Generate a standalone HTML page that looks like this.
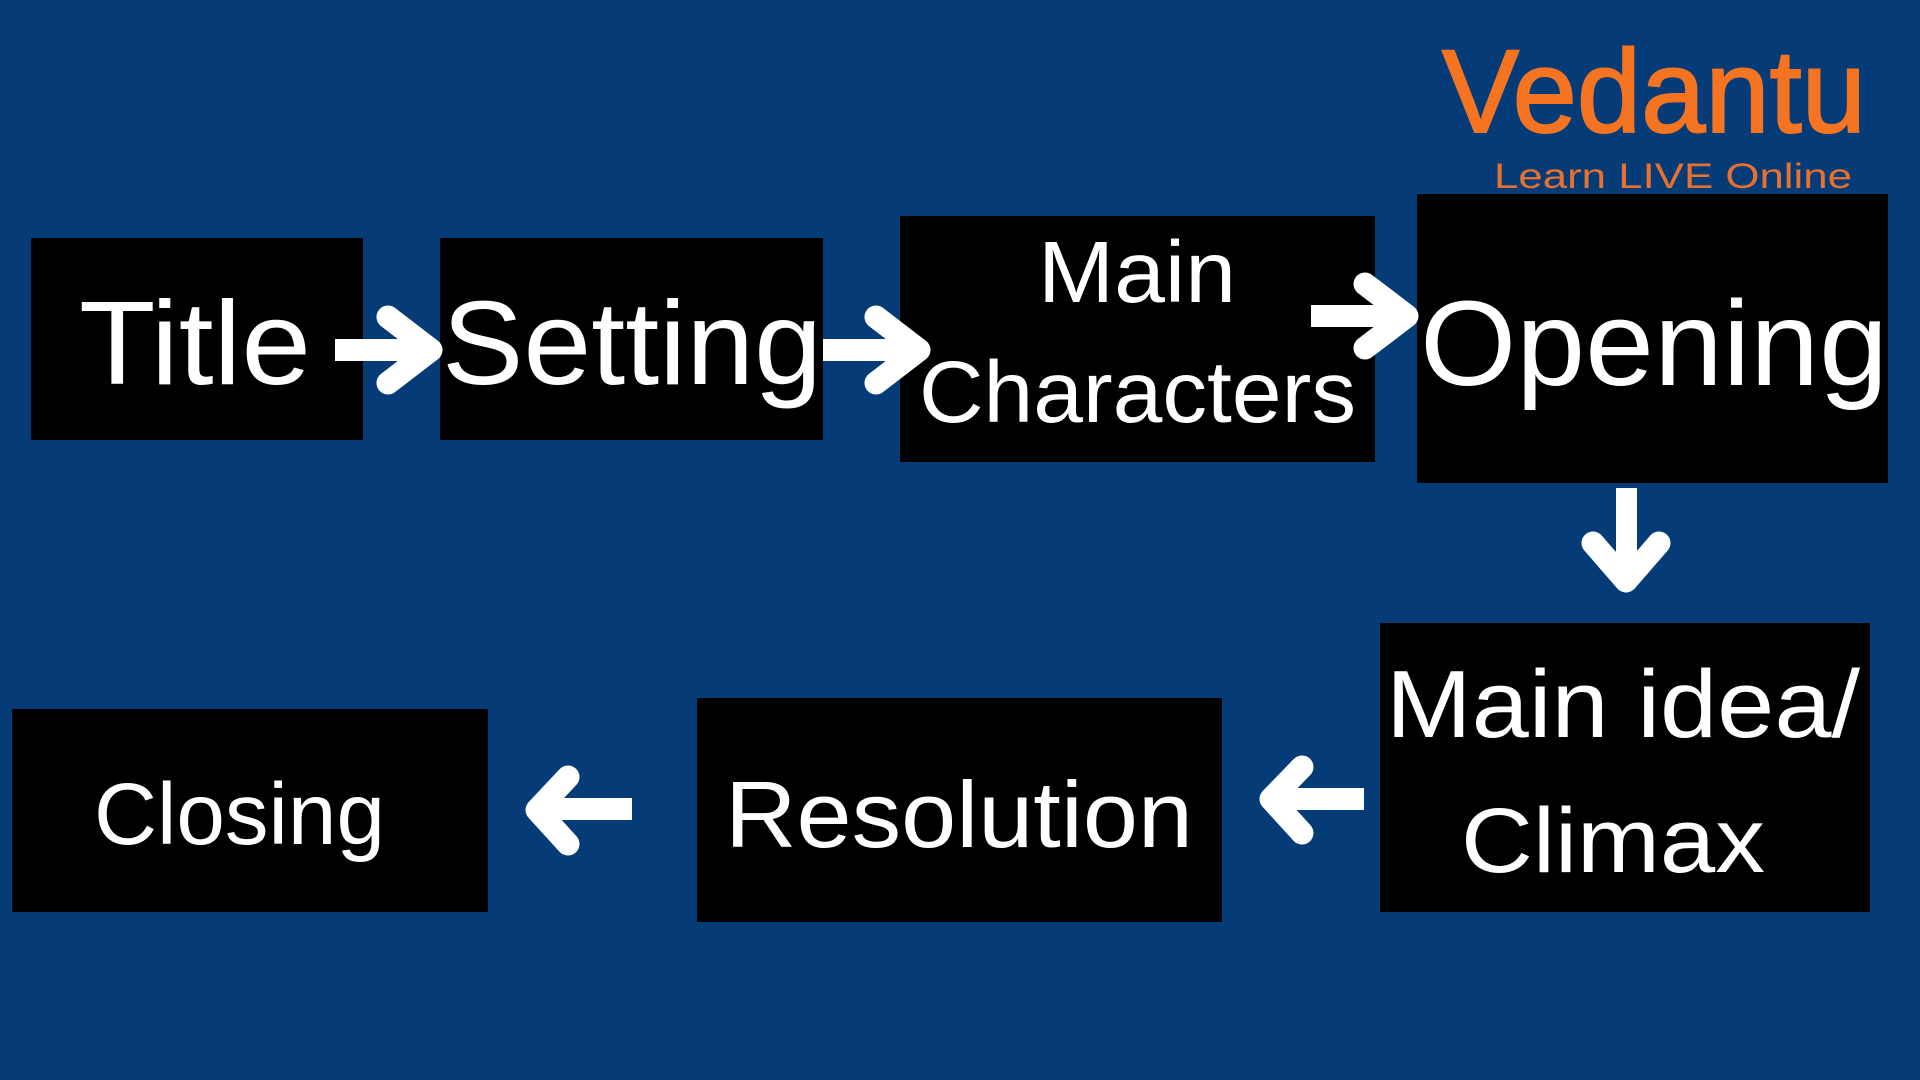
<!DOCTYPE html>
<html>
<head>
<meta charset="utf-8">
<style>
  html,body{margin:0;padding:0;width:1920px;height:1080px;overflow:hidden;background:#053c77;}
  svg{display:block;}
  text{font-family:"Liberation Sans",sans-serif;fill:#ffffff;}
</style>
</head>
<body>
<svg width="1920" height="1080" viewBox="0 0 1920 1080" xmlns="http://www.w3.org/2000/svg">
  <rect x="0" y="0" width="1920" height="1080" fill="#053c77"/>

  <!-- Logo -->
  <text x="1442" y="132" font-size="118" textLength="424" lengthAdjust="spacingAndGlyphs" style="fill:#f47421;stroke:#f47421;stroke-width:2">Vedantu</text>
  <text x="1494" y="188" font-size="35" textLength="358" lengthAdjust="spacingAndGlyphs" style="fill:#e8712e">Learn LIVE Online</text>

  <!-- Boxes -->
  <rect x="31" y="238" width="332" height="202" fill="#000"/>
  <rect x="440" y="238" width="383" height="202" fill="#000"/>
  <rect x="900" y="216" width="475" height="246" fill="#000"/>
  <rect x="1417" y="194" width="471" height="289" fill="#000"/>
  <rect x="1380" y="623" width="490" height="289" fill="#000"/>
  <rect x="697" y="698" width="525" height="224" fill="#000"/>
  <rect x="12" y="709" width="476" height="203" fill="#000"/>

  <!-- Arrows -->
  <g fill="#ffffff" stroke="none">
    <rect x="335" y="339" width="90" height="22"/>
    <rect x="823" y="339" width="92" height="22"/>
    <rect x="1311" y="305" width="89" height="22"/>
    <rect x="1616" y="488" width="21" height="87"/>
    <rect x="1280" y="788" width="84" height="22"/>
    <rect x="545" y="798" width="87" height="22"/>
  </g>
  <g fill="none" stroke="#ffffff" stroke-width="23" stroke-linecap="round" stroke-linejoin="round">
    <polyline points="388,317 431,350 388,383"/>
    <polyline points="876,317 919,350 876,383"/>
    <polyline points="1365,284 1407,316 1365,348"/>
    <polyline points="1593,543 1626,581 1659,543"/>
    <polyline points="1302,767 1271,799 1302,833"/>
    <polyline points="568,777 537,810 568,844"/>
  </g>

  <!-- Labels -->
  <text x="79" y="384" font-size="119" textLength="232" lengthAdjust="spacingAndGlyphs">Title</text>
  <text x="442" y="384" font-size="119" textLength="380" lengthAdjust="spacingAndGlyphs">Setting</text>
  <text x="1038" y="302" font-size="87" textLength="198" lengthAdjust="spacingAndGlyphs">Main</text>
  <text x="919" y="422" font-size="87" textLength="437" lengthAdjust="spacingAndGlyphs">Characters</text>
  <text x="1420" y="385" font-size="121" textLength="468" lengthAdjust="spacingAndGlyphs">Opening</text>
  <text x="1386" y="737" font-size="96" textLength="474" lengthAdjust="spacingAndGlyphs">Main idea/</text>
  <text x="1461" y="872" font-size="92" textLength="304" lengthAdjust="spacingAndGlyphs">Climax</text>
  <text x="725" y="847" font-size="94" textLength="468" lengthAdjust="spacingAndGlyphs">Resolution</text>
  <text x="94" y="844" font-size="87" textLength="291" lengthAdjust="spacingAndGlyphs">Closing</text>
</svg>
</body>
</html>
